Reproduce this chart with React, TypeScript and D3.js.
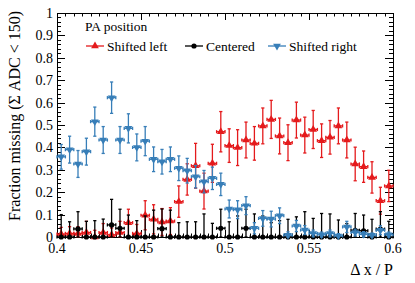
import { FC } from 'react'
import * as d3 from 'd3'

// bin centres (bin width 0.005)
const binCenters = [
  0.4025, 0.4075, 0.4125, 0.4175, 0.4225, 0.4275, 0.4325, 0.4375, 0.4425, 0.4475,
  0.4525, 0.4575, 0.4625, 0.4675, 0.4725, 0.4775, 0.4825, 0.4875, 0.4925, 0.4975,
  0.5025, 0.5075, 0.5125, 0.5175, 0.5225, 0.5275, 0.5325, 0.5375, 0.5425, 0.5475,
  0.5525, 0.5575, 0.5625, 0.5675, 0.5725, 0.5775, 0.5825, 0.5875, 0.5925, 0.5975,
]

const leftValues = [
  0.013, 0.016, 0.016, 0.02, 0.0, 0.02, 0.01, 0.02, 0.064, 0.016,
  0.097, 0.079, 0.067, 0.071, 0.158, 0.257, 0.318, 0.205, 0.329, 0.47,
  0.408, 0.399, 0.433, 0.418, 0.496, 0.525, 0.451, 0.421, 0.522, 0.455,
  0.48, 0.43, 0.445, 0.496, 0.433, 0.326, 0.314, 0.266, 0.162, 0.228,
]
const leftErrors = [
  0.03, 0.03, 0.03, 0.05, 0.03, 0.04, 0.03, 0.05, 0.06, 0.04,
  0.065, 0.065, 0.06, 0.06, 0.07, 0.07, 0.1, 0.08, 0.085, 0.09,
  0.075, 0.08, 0.08, 0.075, 0.08, 0.085, 0.08, 0.08, 0.08, 0.08,
  0.085, 0.075, 0.075, 0.08, 0.08, 0.075, 0.07, 0.07, 0.06, 0.07,
]

const centerValues = [
  0, 0, 0.036, 0, 0, 0, 0.054, 0.039, 0, 0,
  0, 0, 0.037, 0, 0, 0, 0, 0, 0, 0.039,
  0, 0, 0.039, 0, 0, 0, 0, 0, 0, 0,
  0, 0, 0, 0, 0, 0.03, 0.028, 0, 0.035, 0,
]
const centerErrors = [
  0.1, 0.068, 0.077, 0.07, 0.073, 0.08, 0.114, 0.085, 0.098, 0.073,
  0.094, 0.12, 0.088, 0.12, 0.064, 0.068, 0.068, 0.103, 0.061, 0.085,
  0.068, 0.094, 0.085, 0.103, 0.094, 0.064, 0.073, 0.079, 0.09, 0.113,
  0.083, 0.105, 0.103, 0.076, 0.06, 0.075, 0.07, 0.079, 0.078, 0.07,
]

const rightValues = [
  0.358, 0.39, 0.326, 0.381, 0.515, 0.433, 0.622, 0.433, 0.485, 0.4,
  0.428, 0.347, 0.336, 0.347, 0.307, 0.296, 0.269, 0.247, 0.262, 0.235,
  0.125, 0.122, 0.14, 0.039, 0.083, 0.08, 0.095, 0.008, 0.049, 0.031,
  0.016, 0.01, 0.016, 0.005, 0.045, 0.02, 0.012, 0.008, 0.03, 0.01,
]
const rightErrors = [
  0.055, 0.06, 0.06, 0.06, 0.065, 0.06, 0.07, 0.06, 0.065, 0.06,
  0.065, 0.055, 0.055, 0.055, 0.055, 0.055, 0.05, 0.05, 0.05, 0.05,
  0.04, 0.04, 0.04, 0.025, 0.035, 0.035, 0.035, 0.015, 0.025, 0.02,
  0.015, 0.012, 0.015, 0.01, 0.025, 0.015, 0.012, 0.01, 0.02, 0.012,
]

const seriesNames = ['Shifted left', 'Centered', 'Shifted right']
const seriesColors = ['#e41a1c', '#000000', '#377eb8']
const seriesMarkers = ['up', 'circle', 'down']
const xTickLabels = ['0.4', '0.45', '0.5', '0.55', '0.6']
const yTickLabels = ['0', '0.1', '0.2', '0.3', '0.4', '0.5', '0.6', '0.7', '0.8', '0.9', '1']

const W = 415
const H = 283
const margin = { left: 57, right: 22, top: 13, bottom: 46 }
const font = '"Liberation Serif", "Times New Roman", serif'
const binHalf = 0.0025

const Marker: FC<{ kind: string; x: number; y: number; color: string }> = ({ kind, x, y, color }) => {
  if (kind === 'circle') return <circle cx={x} cy={y} r={2.6} fill={color} />
  const sym = d3.symbol().type(d3.symbolTriangle).size(26)()
  const rot = kind === 'down' ? 180 : 0
  return <path d={sym!} transform={`translate(${x},${y}) rotate(${rot})`} fill={color} />
}

const App: FC = () => {
  const x = d3.scaleLinear().domain([0.4, 0.6]).range([margin.left, W - margin.right])
  const y = d3.scaleLinear().domain([0, 1]).range([H - margin.bottom, margin.top])
  const x0 = margin.left, x1 = W - margin.right, y0 = H - margin.bottom, y1 = margin.top

  const series = [
    { values: leftValues, errors: leftErrors },
    { values: centerValues, errors: centerErrors },
    { values: rightValues, errors: rightErrors },
  ]

  const yMinor = d3.range(0, 1.0001, 0.02)
  const xMinor = d3.range(0.4, 0.6001, 0.005)
  const cap = 1.6

  return (
    <svg width={W} height={H} style={{ position: 'absolute', left: 0, top: 0, background: '#fff' }} fontFamily={font}>
      {/* ticks on all four sides, pointing inwards */}
      <g stroke="#000" strokeWidth={1}>
        {yMinor.map((v, i) => {
          const major = i % 5 === 0
          const len = major ? 8 : 4
          const yy = Math.round(y(v)) + 0.5
          return (
            <g key={'yt' + i}>
              <line x1={x0} x2={x0 + len} y1={yy} y2={yy} />
              <line x1={x1} x2={x1 - len} y1={yy} y2={yy} />
            </g>
          )
        })}
        {xMinor.map((v, i) => {
          const major = i % 10 === 0
          const len = major ? 7 : 3.5
          const xx = Math.round(x(v)) + 0.5
          return (
            <g key={'xt' + i}>
              <line x1={xx} x2={xx} y1={y0} y2={y0 - len} />
              <line x1={xx} x2={xx} y1={y1} y2={y1 + len} />
            </g>
          )
        })}
      </g>
      <rect x={x0 + 0.5} y={y1 + 0.5} width={x1 - x0} height={y0 - y1} fill="none" stroke="#000" strokeWidth={1} />

      {/* data */}
      {series.map((s, si) => (
        <g key={'s' + si}>
          {s.values.map((v, i) => {
            const cx = x(binCenters[i])
            const cy = y(v)
            const up = y(Math.min(1, v + s.errors[i]))
            const dn = y(Math.max(0, v - s.errors[i]))
            const xl = x(binCenters[i] - binHalf)
            const xr = x(binCenters[i] + binHalf)
            const c = seriesColors[si]
            return (
              <g key={i} stroke={c} strokeWidth={1.3}>
                <line x1={xl} x2={xr} y1={cy} y2={cy} />
                <line x1={xl} x2={xl} y1={cy - cap} y2={cy + cap} />
                <line x1={xr} x2={xr} y1={cy - cap} y2={cy + cap} />
                <line x1={cx} x2={cx} y1={up} y2={dn} />
                <line x1={cx - cap} x2={cx + cap} y1={up} y2={up} />
                {dn - cy > 1 && <line x1={cx - cap} x2={cx + cap} y1={dn} y2={dn} />}
                <g stroke="none">
                  <Marker kind={seriesMarkers[si]} x={cx} y={cy} color={c} />
                </g>
              </g>
            )
          })}
        </g>
      ))}

      {/* axis labels */}
      {yTickLabels.map((t, i) => (
        <text key={'yl' + i} x={x0 - 4} y={y(i / 10) + 5} textAnchor="end" fontSize={14}>{t}</text>
      ))}
      {xTickLabels.map((t, i) => (
        <text key={'xl' + i} x={x(0.4 + i * 0.05)} y={y0 + 16} textAnchor="middle" fontSize={14}>{t}</text>
      ))}
      <text x={x1} y={H - 8} textAnchor="end" fontSize={16}>Δ x / P</text>
      <text transform={`translate(20, ${y1 - 2}) rotate(-90)`} textAnchor="end" fontSize={16}>
        Fraction missing (Σ ADC &lt; 150)
      </text>

      {/* legend */}
      <g fontSize={13.5}>
        <text x={85} y={31}>PA position</text>
        {seriesNames.map((n, i) => {
          const lx = [86, 185, 268][i]
          const ly = 46
          const c = seriesColors[i]
          return (
            <g key={'lg' + i}>
              <line x1={lx} x2={lx + 18} y1={ly} y2={ly} stroke={c} strokeWidth={1.3} />
              <Marker kind={seriesMarkers[i]} x={lx + 9} y={ly} color={c} />
              <text x={lx + 21} y={ly + 4.5}>{n}</text>
            </g>
          )
        })}
      </g>
    </svg>
  )
}

export default App
